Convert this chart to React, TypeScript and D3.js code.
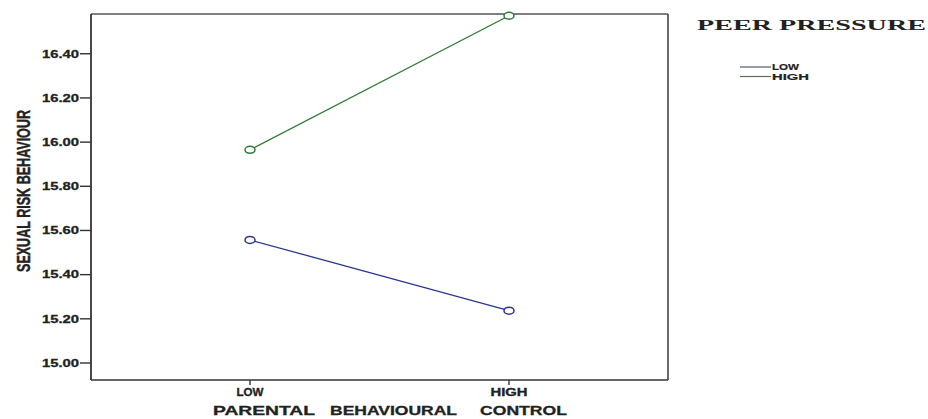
import React from "react";
import * as d3 from "d3";

const categories = ["LOW", "HIGH"];
const seriesNames = ["LOW", "HIGH"];
const lowPeer = [15.557, 15.237];
const highPeer = [15.965, 16.572];
const yTicks = [15.0, 15.2, 15.4, 15.6, 15.8, 16.0, 16.2, 16.4];
const colors = ["#2b3590", "#2f7a35"];
const legendColors = ["#50597a", "#5f6f62"];

const W = 928;
const H = 419;
const left = 91;
const right = 668;
const top = 14;
const bottom = 380;

export default function App() {
  const x = d3.scalePoint<string>().domain(categories).range([left, right]).padding(0.614);
  const y = d3.scaleLinear().domain([14.923, 16.58]).range([bottom, top]);
  const series = [lowPeer, highPeer];
  const line = d3
    .line<number>()
    .x((_, i) => x(categories[i]) as number)
    .y((d) => y(d));
  const font = "'Liberation Sans', Arial, sans-serif";

  return (
    <svg width={W} height={H} style={{ position: "absolute", left: 0, top: 0, background: "#fff" }}>
      <rect x={0} y={0} width={W} height={H} fill="#fff" />
      {/* frame */}
      <line x1={left} y1={top} x2={right} y2={top} stroke="#555" strokeWidth={1.3} />
      <line x1={right} y1={top} x2={right} y2={bottom} stroke="#444" strokeWidth={1.6} />
      <line x1={left} y1={top} x2={left} y2={bottom} stroke="#333" strokeWidth={1.8} />
      <line x1={left} y1={bottom} x2={right} y2={bottom} stroke="#333" strokeWidth={1.6} />
      {/* y ticks */}
      {yTicks.map((t) => (
        <g key={t}>
          <line x1={80} x2={left} y1={y(t)} y2={y(t)} stroke="#333" strokeWidth={1.4} />
          <text
            x={42}
            y={y(t)}
            dy="0.35em"
            fontFamily={font}
            fontWeight="bold"
            fontSize={11}
            fill="#222"
            stroke="#222"
            strokeWidth={0.3}
            textLength={37}
            lengthAdjust="spacingAndGlyphs"
          >
            {t.toFixed(2)}
          </text>
        </g>
      ))}
      {/* x ticks */}
      {categories.map((c, i) => (
        <g key={c}>
          <line x1={x(c)} x2={x(c)} y1={bottom} y2={bottom + 5} stroke="#333" strokeWidth={1.4} />
          <text
            x={(x(c) as number) - (i === 0 ? 13.5 : 18.5)}
            y={392}
            dy="0.35em"
            fontFamily={font}
            fontWeight="bold"
            fontSize={10}
            fill="#222"
            stroke="#222"
            strokeWidth={0.3}
            textLength={i === 0 ? 27 : 37}
            lengthAdjust="spacingAndGlyphs"
          >
            {c}
          </text>
        </g>
      ))}
      {/* axis titles */}
      {[
        { t: "PARENTAL", x0: 213, w: 102 },
        { t: "BEHAVIOURAL", x0: 330, w: 127 },
        { t: "CONTROL", x0: 480, w: 87 },
      ].map((d) => (
        <text
          key={d.t}
          x={d.x0}
          y={411}
          dy="0.35em"
          fontFamily={font}
          fontWeight="bold"
          fontSize={12.5}
          fill="#222"
          stroke="#222"
          strokeWidth={0.3}
          textLength={d.w}
          lengthAdjust="spacingAndGlyphs"
        >
          {d.t}
        </text>
      ))}
      <g transform="translate(23,191) rotate(-90) scale(1,1.45)">
        <text
          x={-81}
          y={0}
          dy="0.35em"
          fontFamily={font}
          fontWeight="bold"
          fontSize={13}
          fill="#222"
          stroke="#222"
          strokeWidth={0.3}
          textLength={162}
          lengthAdjust="spacingAndGlyphs"
        >
          SEXUAL RISK BEHAVIOUR
        </text>
      </g>
      {/* lines */}
      {series.map((s, si) => (
        <g key={si}>
          <path d={line(s) ?? ""} fill="none" stroke={colors[si]} strokeWidth={1.3} />
          {s.map((v, i) => (
            <ellipse
              key={i}
              cx={x(categories[i])}
              cy={y(v)}
              rx={5}
              ry={3.5}
              fill="#fff"
              stroke={colors[si]}
              strokeWidth={1.5}
            />
          ))}
        </g>
      ))}
      {/* legend */}
      <text
        x={697}
        y={25}
        dy="0.35em"
        fontFamily="'Liberation Serif', 'Times New Roman', serif"
        fontWeight="bold"
        fontSize={14}
        fill="#222"
        textLength={229}
        lengthAdjust="spacingAndGlyphs"
      >
        PEER PRESSURE
      </text>
      {seriesNames.map((n, i) => (
        <g key={n}>
          <line x1={740} x2={771} y1={67 + i * 9.5} y2={67 + i * 9.5} stroke={legendColors[i]} strokeWidth={1.2} />
          <text
            x={772}
            y={67 + i * 9.5}
            dy="0.35em"
            fontFamily={font}
            fontWeight="bold"
            fontSize={9}
            fill="#222"
            stroke="#222"
            strokeWidth={0.2}
            textLength={i === 0 ? 27 : 37}
            lengthAdjust="spacingAndGlyphs"
          >
            {n}
          </text>
        </g>
      ))}
    </svg>
  );
}
